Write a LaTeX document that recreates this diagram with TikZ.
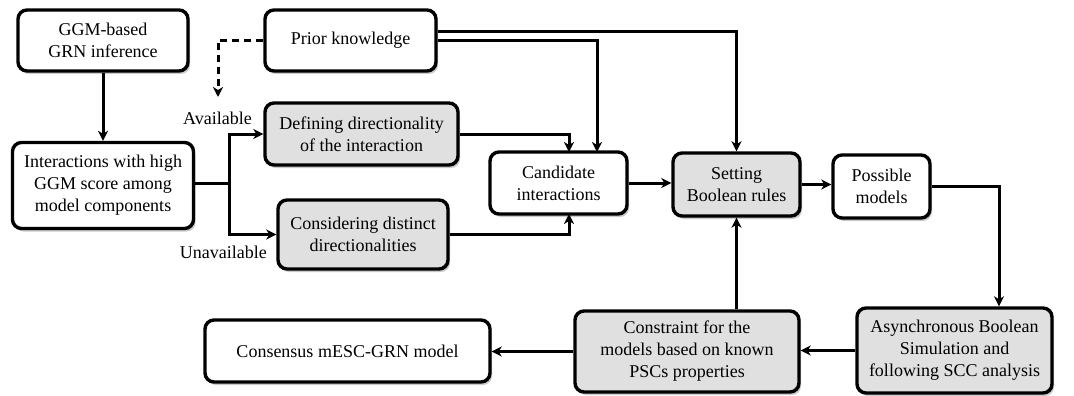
\documentclass[tikz,border=0pt]{standalone}
\usepackage{fontspec}
\setmainfont{Liberation Serif}
\usetikzlibrary{arrows.meta,shadows}
\definecolor{boxgray}{HTML}{E0E0E0}
\begin{document}
\begin{tikzpicture}[x=1pt,y=-1pt,
  box/.style={draw=black, line width=3.4pt, rounded corners=9pt, fill=white, align=center,
    inner sep=2pt, font=\fontsize{18}{22}\selectfont,
    drop shadow={shadow xshift=2pt, shadow yshift=-3pt, opacity=0.35, fill=black!60}},
  gbox/.style={box, fill=boxgray},
  conn/.style={line width=3pt, -{Stealth[length=10pt,width=10pt,inset=3pt]}},
  lbl/.style={font=\fontsize{18}{22}\selectfont, inner sep=0pt}]
\useasboundingbox (0,0) rectangle (1074,396);

\node[box, minimum width=170pt, minimum height=61pt] (ggm) at (103,40.5) {GGM-based\\GRN inference};
\node[box, minimum width=171pt, minimum height=61pt] (prior) at (350.5,40.5) {Prior knowledge};
\node[box, minimum width=181pt, minimum height=86pt] (inter) at (103,185.5) {Interactions with high\\GGM score among\\model components};
\node[gbox, minimum width=193pt, minimum height=62pt] (def) at (361.5,134) {Defining directionality\\of\ the interaction};
\node[gbox, minimum width=170pt, minimum height=69pt] (cons) at (363,234.5) {Considering distinct\\directionalities};
\node[box, minimum width=137pt, minimum height=62pt] (cand) at (558.5,183) {Candidate\\interactions};
\node[gbox, minimum width=127pt, minimum height=63pt] (set) at (736.5,184.5) {Setting\\Boolean rules};
\node[box, minimum width=97pt, minimum height=63pt] (poss) at (881.5,186.5) {Possible\\models};
\node[gbox, minimum width=195pt, minimum height=85pt] (async) at (954.5,350.5) {Asynchronous Boolean\\Simulation and\\following SCC analysis};
\node[gbox, minimum width=224pt, minimum height=81pt] (constr) at (687,351.5) {Constraint for the\\models based on known\\PSCs properties};
\node[box, minimum width=285pt, minimum height=62pt] (consen) at (347.5,351) {Consensus mESC-GRN model};

\node[lbl, anchor=east] (avail) at (252,118) {Available};
\node[lbl, anchor=east] (unavail) at (267,252) {Unavailable};

% connectors
\draw[conn] (ggm) -- (inter);
\draw[conn] (inter.east |- 0,183) -- (229,183) |- (def.west);
\draw[conn] (inter.east |- 0,183) -- (229,183) |- (cons.west);
\draw[conn] (def.east) -| (569,152);
\draw[conn] (cons.east) -| (569,214);
\draw[conn] ([yshift=8.5pt]prior.east) -| (set.north);
\draw[conn] (prior.east) -| (597,152);
\draw[conn] (cand.east) -- (set.west |- cand.east);
\draw[conn] (set.east) -- (poss.west |- set.east);
\draw[conn] (poss.east) -| (999,0 |- async.north);
\draw[conn] (async.west) -- (constr.east |- async.west);
\draw[conn] (constr.north -| set.south) -- (set.south);
\draw[conn] (constr.west) -- (consen.east |- constr.west);
\coordinate (dashend) at (218,97);
\draw[conn, dashed, dash pattern=on 7pt off 5pt] (prior.west) -| (dashend);
\end{tikzpicture}
\end{document}
